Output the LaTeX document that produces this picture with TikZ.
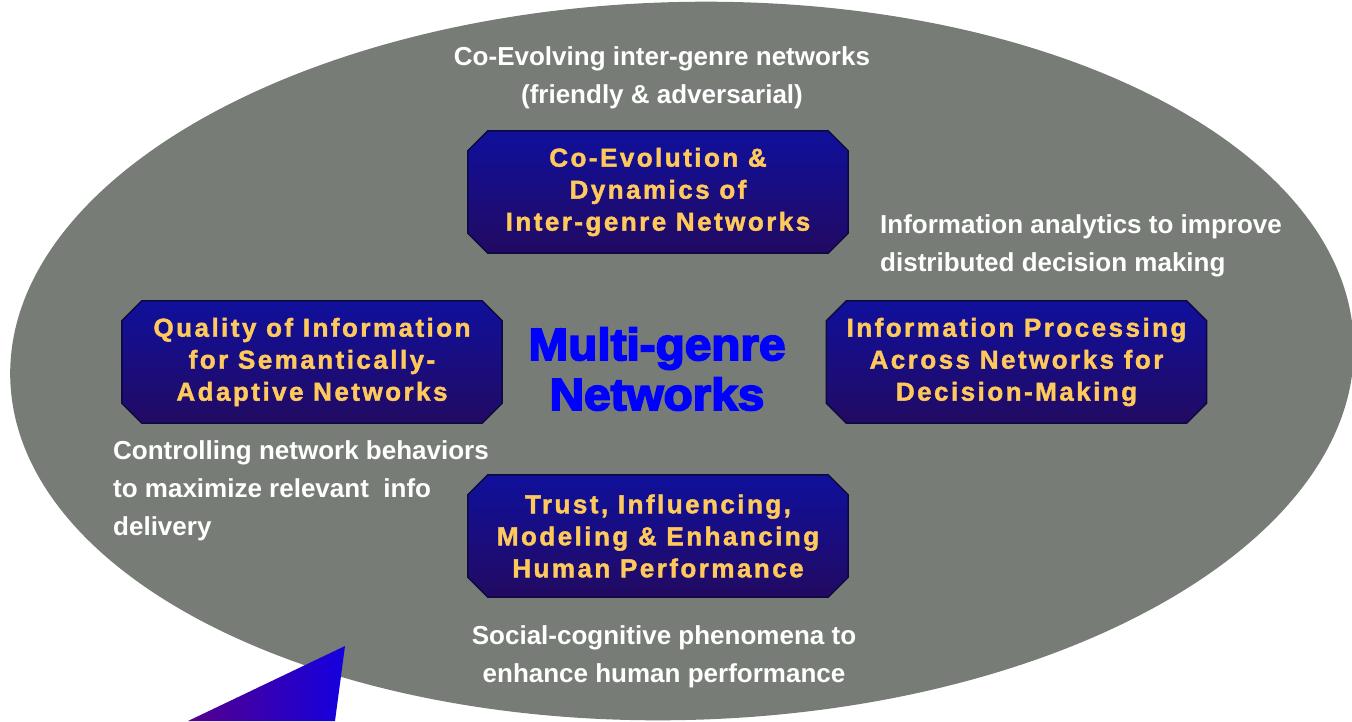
\documentclass[tikz,border=0pt]{standalone}
\usepackage{fontspec}
\setmainfont{Liberation Sans}
\newfontfamily\notefont{Liberation Sans Bold}
\newfontfamily\boxfont[LetterSpace=9.5,FakeBold=1.6]{Liberation Sans Bold}
\newfontfamily\hubfont[FakeBold=4,FakeStretch=1.06]{Liberation Sans Bold}

\definecolor{panel}{HTML}{777D76}
\definecolor{boxtop}{HTML}{10109C}
\definecolor{boxmid}{HTML}{1A1AB6}
\definecolor{boxbot}{HTML}{220A62}
\definecolor{boxedge}{HTML}{0A0A40}
\definecolor{gold}{HTML}{FFC95C}
\definecolor{hubblue}{HTML}{0000FF}
\definecolor{wedgeblue}{HTML}{1400E0}
\definecolor{wedgepurple}{HTML}{55008A}

\tikzset{
  topicframe/.style={rectangle, minimum width=380pt, minimum height=122pt, inner sep=0pt},
  topicfill/.style={top color=boxtop, middle color=boxmid, bottom color=boxbot,
    draw=boxedge, line width=1.5pt, line join=miter},
  topictext/.style={text=gold, align=center, inner sep=0pt,
    font=\boxfont\fontsize{26}{32}\selectfont},
  note/.style={text=white, inner sep=0pt, font=\notefont\fontsize{26}{38}\selectfont},
  hub/.style={text=hubblue, inner sep=0pt, align=center,
    font=\hubfont\fontsize{45}{50}\selectfont}
}

% octagonal panel with cut corners around a frame node
\newcommand\cutpanel[1]{%
  \shade[topicfill]
    ([xshift=20pt]#1.north west) -- ([xshift=-20pt]#1.north east)
    -- ([yshift=-20pt]#1.north east) -- ([yshift=20pt]#1.south east)
    -- ([xshift=-20pt]#1.south east) -- ([xshift=20pt]#1.south west)
    -- ([yshift=20pt]#1.south west) -- ([yshift=-20pt]#1.north west) -- cycle;}

\begin{document}
\begin{tikzpicture}[x=1pt,y=-1pt]
\useasboundingbox (0,0) rectangle (1352,721);
\clip (0,0) rectangle (1352,721);

% grey oval backdrop
\fill[panel, rotate around={1.5:(682,361)}] (682,361) ellipse [x radius=672, y radius=359];

% callout wedge
\shade[left color=wedgepurple, right color=wedgeblue] (345,646) -- (335,721) -- (188,721) -- cycle;

% research topic panels
\node[topicframe] (coevo) at (658,192) {};
\node[topicframe] (qoi) at (312,362) {};
\node[topicframe] (ipd) at (1016.5,362) {};
\node[topicframe] (trust) at (658,536) {};
\cutpanel{coevo}
\cutpanel{qoi}
\cutpanel{ipd}
\cutpanel{trust}

\node[topictext] (coevo-text) at (coevo) {Co-Evolution \&\\Dynamics of\\Inter-genre Networks};
\node[topictext] (qoi-text) at (qoi) {Quality of Information\\for Semantically-\\Adaptive Networks};
\node[topictext] (ipd-text) at (ipd) {Information Processing\\Across Networks for\\Decision-Making};
\node[topictext] (trust-text) at (trust) {Trust, Influencing,\\Modeling \& Enhancing\\Human Performance};

% centre title
\node[hub] (hub) at (657,369) {Multi-genre\\Networks};

% descriptive notes
\node[note, align=center] (n1) at (662,78) {Co-Evolving inter-genre networks\\(friendly \& adversarial)};
\node[note, align=left, anchor=west] (n2) at (880,246) {Information analytics to improve\\distributed decision making};
\node[note, align=left, anchor=west] (n3) at (113,491) {Controlling network behaviors\\to maximize relevant\ \ info\\delivery};
\node[note, align=center] (n4) at (664,657) {Social-cognitive phenomena to\\enhance human performance};
\end{tikzpicture}
\end{document}
